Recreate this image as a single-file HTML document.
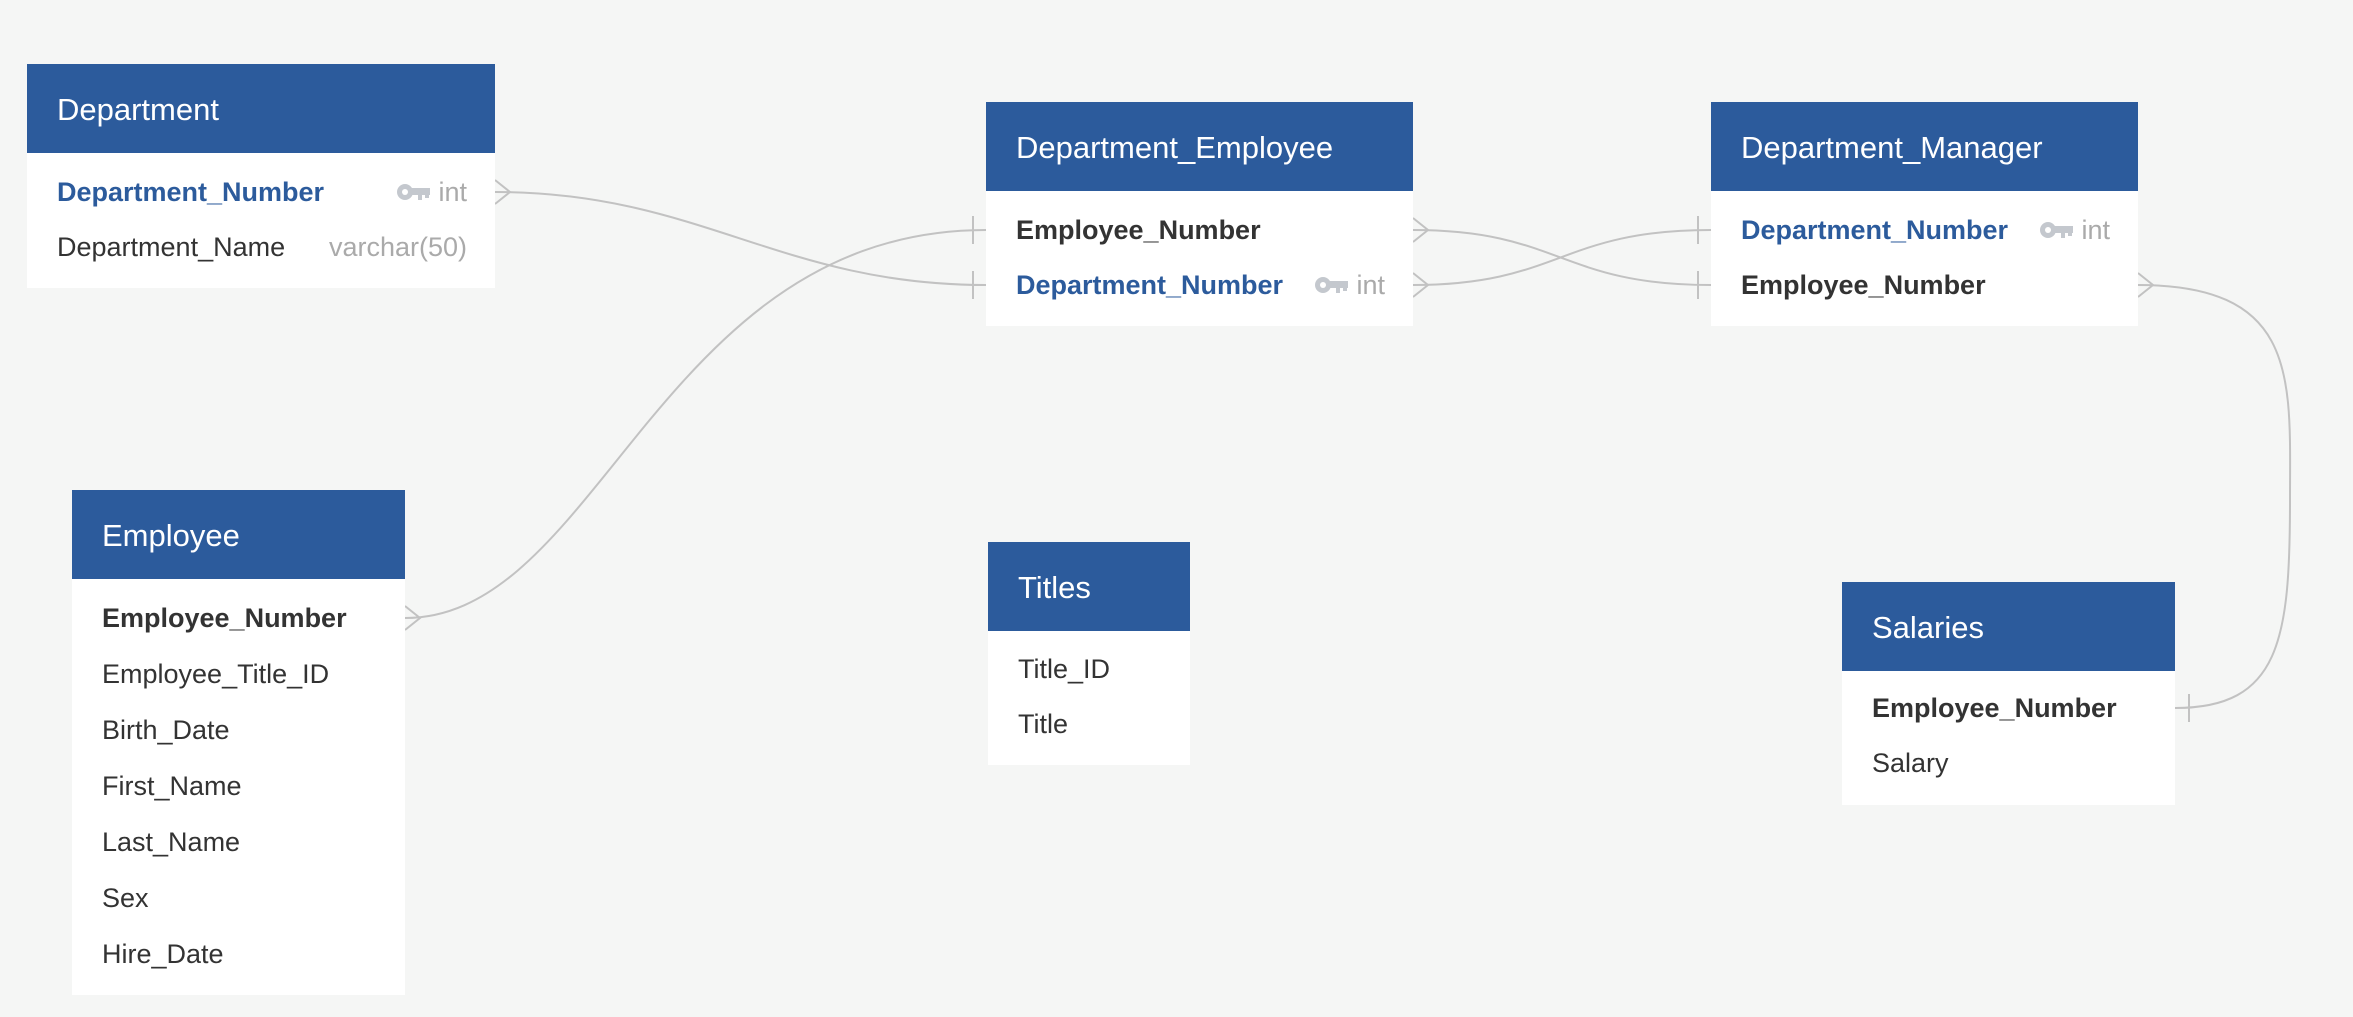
<!DOCTYPE html>
<html><head><meta charset="utf-8"><style>
html,body{margin:0;padding:0;}
body{width:2353px;height:1017px;background:#f5f6f5;position:relative;overflow:hidden;font-family:"Liberation Sans",Arial,sans-serif;}
.t{position:absolute;background:#fff;}
.h{background:#2c5b9c;color:#fff;font-size:31px;height:89px;line-height:92px;padding-left:30px;box-sizing:border-box;}
.r{position:absolute;left:30px;right:28px;font-size:27px;color:#333;height:40px;line-height:40px;}
.r b{font-weight:bold;}
.r .pk{color:#2c5b9c;font-weight:bold;}
.ty{position:absolute;right:0;top:0;color:#aaa;}
.ty svg{position:static;vertical-align:middle;margin-right:8px;margin-top:-4px;}
svg.c{position:absolute;left:0;top:0;}
</style></head><body>
<svg class="c" width="2353" height="1017" viewBox="0 0 2353 1017" fill="none" stroke="#c2c2c2" stroke-width="2">
<path d="M495 192 C700 192 780 285 986 285"/>
<path d="M405 618 C600 618 660 230 986 230"/>
<path d="M1413 230 C1560 230 1560 285 1711 285"/>
<path d="M1413 285 C1560 285 1560 230 1711 230"/>
<path d="M2138 285 C2300 285 2290 380 2290 500 C2290 640 2280 708 2175 708"/>
<path d="M495 180 L510 192 L495 204"/>
<path d="M405 606 L420 618 L405 630"/>
<path d="M1413 218 L1428 230 L1413 242"/>
<path d="M1413 273 L1428 285 L1413 297"/>
<path d="M2138 273 L2153 285 L2138 297"/>
<path d="M973 216 L973 244 M973 271 L973 299"/>
<path d="M1698 216 L1698 244 M1698 271 L1698 299"/>
<path d="M2189 694 L2189 722"/>
</svg>

<div class="t" style="left:27px;top:64px;width:468px;height:224px;">
<div class="h">Department</div>
<div class="r" style="top:108px;"><span class="pk">Department_Number</span><span class="ty"><svg width="34" height="20" viewBox="0 0 34 20"><circle cx="9" cy="10" r="8" fill="#c4c8ce"/><circle cx="9" cy="10" r="3" fill="#fff"/><rect x="14" y="6" width="20" height="7" fill="#c4c8ce"/><rect x="22" y="11" width="4" height="7" fill="#c4c8ce"/><rect x="29" y="11" width="4" height="5" fill="#c4c8ce"/></svg>int</span></div>
<div class="r" style="top:163px;">Department_Name<span class="ty">varchar(50)</span></div>
</div>

<div class="t" style="left:986px;top:102px;width:427px;height:224px;">
<div class="h">Department_Employee</div>
<div class="r" style="top:108px;"><b>Employee_Number</b></div>
<div class="r" style="top:163px;"><span class="pk">Department_Number</span><span class="ty"><svg width="34" height="20" viewBox="0 0 34 20"><circle cx="9" cy="10" r="8" fill="#c4c8ce"/><circle cx="9" cy="10" r="3" fill="#fff"/><rect x="14" y="6" width="20" height="7" fill="#c4c8ce"/><rect x="22" y="11" width="4" height="7" fill="#c4c8ce"/><rect x="29" y="11" width="4" height="5" fill="#c4c8ce"/></svg>int</span></div>
</div>

<div class="t" style="left:1711px;top:102px;width:427px;height:224px;">
<div class="h">Department_Manager</div>
<div class="r" style="top:108px;"><span class="pk">Department_Number</span><span class="ty"><svg width="34" height="20" viewBox="0 0 34 20"><circle cx="9" cy="10" r="8" fill="#c4c8ce"/><circle cx="9" cy="10" r="3" fill="#fff"/><rect x="14" y="6" width="20" height="7" fill="#c4c8ce"/><rect x="22" y="11" width="4" height="7" fill="#c4c8ce"/><rect x="29" y="11" width="4" height="5" fill="#c4c8ce"/></svg>int</span></div>
<div class="r" style="top:163px;"><b>Employee_Number</b></div>
</div>

<div class="t" style="left:72px;top:490px;width:333px;height:505px;">
<div class="h">Employee</div>
<div class="r" style="top:108px;"><b>Employee_Number</b></div>
<div class="r" style="top:164px;">Employee_Title_ID</div>
<div class="r" style="top:220px;">Birth_Date</div>
<div class="r" style="top:276px;">First_Name</div>
<div class="r" style="top:332px;">Last_Name</div>
<div class="r" style="top:388px;">Sex</div>
<div class="r" style="top:444px;">Hire_Date</div>
</div>

<div class="t" style="left:988px;top:542px;width:202px;height:223px;">
<div class="h">Titles</div>
<div class="r" style="top:107px;">Title_ID</div>
<div class="r" style="top:162px;">Title</div>
</div>

<div class="t" style="left:1842px;top:582px;width:333px;height:223px;">
<div class="h">Salaries</div>
<div class="r" style="top:106px;"><b>Employee_Number</b></div>
<div class="r" style="top:161px;">Salary</div>
</div>
</body></html>
